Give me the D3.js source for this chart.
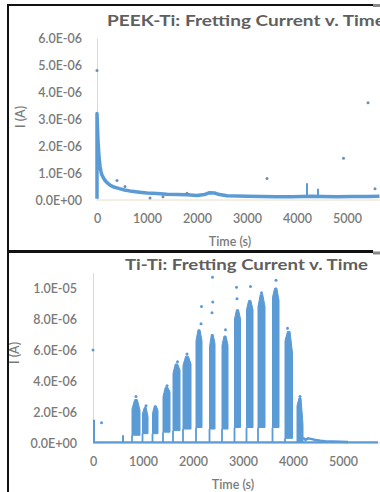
<!DOCTYPE html>
<html><head><meta charset="utf-8">
<script src="https://cdn.jsdelivr.net/npm/d3@7"></script>
<style>
body{margin:0;background:#fff}
svg{display:block}
text{font-family:Lato,"Open Sans",sans-serif}
</style>
</head><body>
<svg id="c" width="380" height="492"></svg>
<script>
// ---------- PEEK-Ti panel: fretting current (A) vs time (s) ----------
const peekTime = [0,0,20,40,60,80,100,150,200,260,350,450,550,700,850,1000,1200,1400,1600,1800,2000,2150,2250,2350,2450,2600,2800,3000,3300,3600,3900,4100,4300,4500,4800,5100,5400,5650];
const peekCurrent = [0.05e-6,3.2e-6,2.2e-6,1.6e-6,1.25e-6,1.05e-6,0.92e-6,0.75e-6,0.64e-6,0.55e-6,0.47e-6,0.42e-6,0.37e-6,0.32e-6,0.29e-6,0.26e-6,0.24e-6,0.21e-6,0.2e-6,0.19e-6,0.17e-6,0.2e-6,0.27e-6,0.26e-6,0.2e-6,0.16e-6,0.15e-6,0.14e-6,0.13e-6,0.12e-6,0.12e-6,0.13e-6,0.14e-6,0.13e-6,0.12e-6,0.13e-6,0.13e-6,0.14e-6];
const peekOutTime = [0,400,560,1060,1320,1800,3400,4930,5420,5560];
const peekOutCurrent = [4.8e-6,0.72e-6,0.5e-6,0.07e-6,0.12e-6,0.25e-6,0.8e-6,1.55e-6,3.6e-6,0.42e-6];
const peekSpikeTime = [4200,4420];
const peekSpikeCurrent = [0.62e-6,0.42e-6];
const peekTicks = [0,1e-6,2e-6,3e-6,4e-6,5e-6,6e-6];
const peekTickLabels = ["0.0E+00","1.0E-06","2.0E-06","3.0E-06","4.0E-06","5.0E-06","6.0E-06"];

// ---------- Ti-Ti panel ----------
const titiBurstStart    = [780,990,1190,1400,1600,1800,2060,2330,2580,2830,3070,3300,3590,3840,4080];
const titiBurstEnd      = [940,1100,1300,1540,1740,1960,2180,2440,2700,2950,3200,3440,3720,3990,4200];
const titiBurstLow      = [0.5e-6,0.6e-6,0.6e-6,0.7e-6,0.8e-6,0.9e-6,1.0e-6,0.9e-6,0.9e-6,1.0e-6,1.0e-6,1.0e-6,1.0e-6,0.3e-6,0.05e-6];
const titiBurstTopStart = [2.2e-6,1.9e-6,1.9e-6,3.0e-6,4.5e-6,5.0e-6,6.6e-6,6.2e-6,6.3e-6,8.0e-6,8.6e-6,8.8e-6,9.4e-6,6.6e-6,2.4e-6];
const titiBurstTop      = [2.8e-6,2.3e-6,2.4e-6,3.6e-6,5.1e-6,5.6e-6,7.3e-6,7.0e-6,6.9e-6,8.6e-6,9.2e-6,9.6e-6,10.0e-6,7.2e-6,2.9e-6];
const titiBurstTopEnd   = [2.1e-6,1.7e-6,2.1e-6,3.3e-6,4.7e-6,5.1e-6,6.6e-6,6.4e-6,6.3e-6,8.0e-6,8.6e-6,8.8e-6,9.2e-6,5.8e-6,1.2e-6];
const titiDotTime    = [0,170,860,1060,1480,1690,1880,2170,2160,2390,2395,2380,2650,2870,2880,3150,3370,3380,3660,3890,4140];
const titiDotCurrent = [6.0e-6,1.3e-6,3.0e-6,2.4e-6,3.7e-6,5.25e-6,5.75e-6,8.8e-6,7.7e-6,10.7e-6,9.1e-6,8.4e-6,7.3e-6,10.05e-6,9.3e-6,10.1e-6,9.7e-6,9.3e-6,10.5e-6,7.4e-6,3.0e-6];
const titiSpikeTime    = [0,580];
const titiSpikeCurrent = [1.5e-6,0.5e-6];
const titiTailTime    = [4200,4250,4300,4380,4450,4550,4650,4800,4950,5100];
const titiTailCurrent = [0.35e-6,0.2e-6,0.3e-6,0.25e-6,0.2e-6,0.15e-6,0.12e-6,0.1e-6,0.08e-6,0.06e-6];
const titiBaseTime    = [0,5700];
const titiBaseCurrent = [0.04e-6,0.04e-6];
const titiTicks = [0,2e-6,4e-6,6e-6,8e-6,10e-6];
const titiTickLabels = ["0.0E+00","2.0E-06","4.0E-06","6.0E-06","8.0E-06","1.0E-05"];

const timeTicks = [0,1000,2000,3000,4000,5000];

const BLUE = "#5b9bd5";
const TEXT = "#7a7a7a";
const TITLE = "#5f5f5f";

const svg = d3.select("#c");
svg.append("rect").attr("width",380).attr("height",492).attr("fill","#fff");

function panel(cfg) {
  const g = svg.append("g");
  const x = d3.scaleLinear().domain([0,6000]).range([cfg.x0, cfg.x0 + 300]);
  const y = d3.scaleLinear().domain(cfg.yDomain).range([cfg.yZero, cfg.yTop]);

  // x baseline
  g.append("line").attr("x1",cfg.x0).attr("x2",380)
    .attr("y1",cfg.yZero).attr("y2",cfg.yZero)
    .attr("stroke","#eadcc6").attr("stroke-width",1);

  // y axis
  const ya = d3.axisLeft(y).tickValues(cfg.ticks)
    .tickFormat((d,i) => cfg.tickLabels[i])
    .tickSizeInner(0).tickSizeOuter(0).tickPadding(cfg.yPad);
  const yg = g.append("g").attr("transform",`translate(${cfg.x0},0)`).call(ya);
  yg.select(".domain").attr("stroke","#d9d9d9");
  yg.selectAll("text").attr("fill",TEXT).attr("font-size",12.5).attr("font-weight",600);

  // x axis labels
  const xa = d3.axisBottom(x).tickValues(timeTicks).tickFormat(d3.format("d"))
    .tickSizeInner(0).tickSizeOuter(0).tickPadding(14);
  const xg = g.append("g").attr("transform",`translate(0,${cfg.yZero})`).call(xa);
  xg.select(".domain").remove();
  xg.selectAll("text").attr("fill",TEXT).attr("font-size",12.5).attr("font-weight",600);

  // titles
  g.append("text").attr("x",cfg.titleX).attr("y",cfg.titleY)
    .attr("fill",TITLE).attr("font-size",16).attr("font-weight",700)
    .attr("textLength",cfg.titleLen).attr("lengthAdjust","spacingAndGlyphs")
    .text(cfg.title);
  g.append("text").attr("x",cfg.xLabelX).attr("y",cfg.xLabelY)
    .attr("text-anchor","middle").attr("fill",TEXT)
    .attr("font-size",12.5).attr("font-weight",600).text("Time (s)");
  g.append("text")
    .attr("transform",`translate(${cfg.yLabelX},${cfg.yLabelY}) rotate(-90)`)
    .attr("text-anchor","middle").attr("fill",TEXT)
    .attr("font-size",12.5).attr("font-weight",600).text("I (A)");
  return {g,x,y};
}

// ---- top panel ----
const peekPanel = panel({
  x0:97, yZero:200, yTop:38, yDomain:[0,6e-6], yPad:15,
  ticks:peekTicks, tickLabels:peekTickLabels,
  title:"PEEK-Ti: Fretting Current v. Time", titleX:107, titleY:26, titleLen:278,
  xLabelX:230, xLabelY:246, yLabelX:25, yLabelY:117
});
{
  const {g,x,y} = peekPanel;
  const line = d3.line().x((d,i)=>x(peekTime[i])).y((d,i)=>y(peekCurrent[i]));
  g.append("path").attr("d",line(peekTime))
    .attr("fill","none").attr("stroke",BLUE).attr("stroke-width",3.5)
    .attr("stroke-linejoin","round");
  g.selectAll(".pspike").data(peekSpikeTime).join("line")
    .attr("x1",d=>x(d)).attr("x2",d=>x(d))
    .attr("y1",y(0.12e-6)).attr("y2",(d,i)=>y(peekSpikeCurrent[i]))
    .attr("stroke",BLUE).attr("stroke-width",2);
  g.selectAll(".pdot").data(peekOutTime).join("circle")
    .attr("cx",d=>x(d)).attr("cy",(d,i)=>y(peekOutCurrent[i]))
    .attr("r",1.5).attr("fill","#6f8fb0");
}

// ---- bottom panel ----
const titiPanel = panel({
  x0:93, yZero:443, yTop:272.5, yDomain:[0,1.1e-5], yPad:16,
  ticks:titiTicks, tickLabels:titiTickLabels,
  title:"Ti-Ti: Fretting Current v. Time", titleX:125, titleY:270, titleLen:243,
  xLabelX:233, xLabelY:489, yLabelX:19, yLabelY:353
});
{
  const {g,x,y} = titiPanel;
  const lineT = d3.line().x(d=>x(d[0])).y(d=>y(d[1]));
  g.append("path").attr("d",lineT(titiBaseTime.map((t,i)=>[t,titiBaseCurrent[i]])))
    .attr("stroke",BLUE).attr("stroke-width",2.2).attr("fill","none");
  g.append("path").attr("d",lineT(titiTailTime.map((t,i)=>[t,titiTailCurrent[i]])))
    .attr("stroke",BLUE).attr("stroke-width",2.5).attr("fill","none");

  // burst envelopes: rise to the top over the first third, hold, then ease off
  g.selectAll(".burst").data(titiBurstStart).join("path")
    .attr("d",(s,i)=>{
      const e = titiBurstEnd[i], w = e - s;
      return d3.line()([
        [x(s),y(titiBurstLow[i])],[x(s),y(titiBurstTopStart[i])],
        [x(s + w/3),y(titiBurstTop[i])],[x(s + 2*w/3),y(titiBurstTop[i])],
        [x(e),y(titiBurstTopEnd[i])],[x(e),y(titiBurstLow[i])]
      ]) + "Z";
    })
    .attr("fill",BLUE).attr("stroke",BLUE).attr("stroke-width",1)
    .attr("stroke-linejoin","round");

  // connection from each burst down to the baseline
  g.selectAll(".bstem").data(titiBurstStart).join("line")
    .attr("x1",d=>x(d)).attr("x2",d=>x(d))
    .attr("y1",y(0)).attr("y2",(d,i)=>y(titiBurstLow[i]))
    .attr("stroke",BLUE).attr("stroke-width",1.8);

  g.selectAll(".tspike").data(titiSpikeTime).join("line")
    .attr("x1",d=>x(d)+1).attr("x2",d=>x(d)+1)
    .attr("y1",y(0)).attr("y2",(d,i)=>y(titiSpikeCurrent[i]))
    .attr("stroke",BLUE).attr("stroke-width",2);

  g.selectAll(".tdot").data(titiDotTime).join("circle")
    .attr("cx",d=>x(d)).attr("cy",(d,i)=>y(titiDotCurrent[i]))
    .attr("r",1.5).attr("fill",BLUE);
}

// panel frames
svg.append("line").attr("x1",8).attr("x2",8).attr("y1",4).attr("y2",492)
  .attr("stroke","#111").attr("stroke-width",2);
svg.append("line").attr("x1",7).attr("x2",373).attr("y1",5).attr("y2",5)
  .attr("stroke","#111").attr("stroke-width",2);
svg.append("line").attr("x1",373).attr("x2",380).attr("y1",5.5).attr("y2",5.5)
  .attr("stroke","#888").attr("stroke-width",3);
svg.append("line").attr("x1",7).attr("x2",373).attr("y1",251.5).attr("y2",251.5)
  .attr("stroke","#111").attr("stroke-width",3);
svg.append("line").attr("x1",373).attr("x2",380).attr("y1",253).attr("y2",253)
  .attr("stroke","#888").attr("stroke-width",3);
</script>
</body></html>
